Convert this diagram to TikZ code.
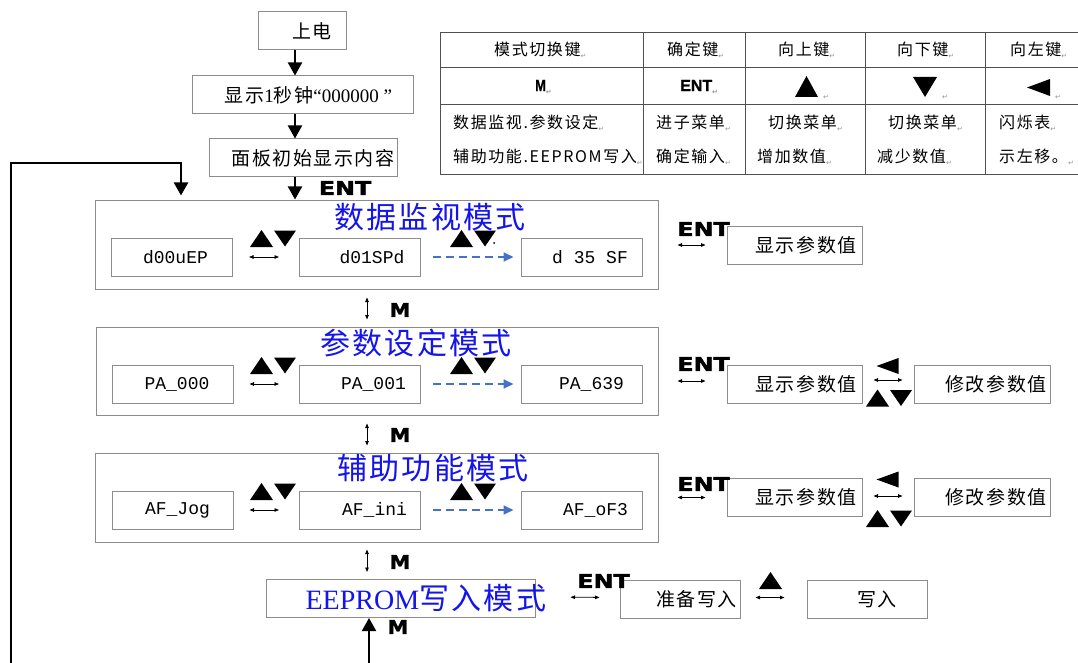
\documentclass[tikz,border=0pt]{standalone}
\usepackage{fontspec}
\setmainfont{Liberation Serif}
\newfontfamily\cjk[LetterSpace=8]{Noto Sans CJK SC}
\newfontfamily\cjkT[LetterSpace=10]{Noto Sans CJK SC}
\newfontfamily\monof{Liberation Mono}
\newfontfamily\heavyf{DejaVu Sans}
\newfontfamily\heavyb[BoldFeatures={FakeBold=2}]{DejaVu Sans}
\newfontfamily\lsans[BoldFeatures={FakeBold=1}]{Liberation Sans}
\usetikzlibrary{arrows.meta}
\definecolor{boxgray}{RGB}{140,140,140}
\definecolor{tablegray}{RGB}{80,80,80}
\definecolor{titleblue}{RGB}{20,20,235}
\definecolor{dashblue}{RGB}{68,114,196}
\definecolor{retgray}{RGB}{150,150,150}
\newcommand\retm{\raisebox{-3pt}{\fontsize{7}{7}\selectfont\heavyf\color{retgray}↵}}
\newcommand\entlbl{{\heavyb\bfseries\fontsize{19}{19}\selectfont\scalebox{1.25}[1]{ENT}}}
\newcommand\mlbl{{\heavyb\bfseries\fontsize{19}{19}\selectfont\scalebox{1.1}[1]{M}}}
\begin{document}
\begin{tikzpicture}[x=1pt,y=-1pt,
  box/.style={draw=boxgray, line width=1pt, inner sep=0pt, minimum height=38pt, font=\cjk\fontsize{19}{19}\selectfont},
  mbox/.style={box, font=\monof\fontsize{18}{18}\selectfont, minimum width=121pt},
  modebox/.style={draw=boxgray, line width=1pt, inner sep=0pt},
  shifttext/.style={execute at begin node={\hspace*{#1}}},
  title/.style={inner sep=0pt, text=titleblue, font=\cjk\fontsize{30}{30}\selectfont},
  flow/.style={line width=2pt, -{Triangle[length=13pt,width=14pt]}},
  dbl/.style={line width=0.8pt, {Triangle[length=4.5pt,width=3.5pt]}-{Triangle[length=4.5pt,width=3.5pt]}},
  dsh/.style={draw=dashblue, line width=1.7pt, dash pattern=on 8pt off 5pt, -{Triangle[length=10pt,width=9pt]}},
  lbl/.style={inner sep=0pt},
  tt/.style={anchor=west, inner sep=0pt, font=\cjkT\fontsize{16}{16}\selectfont},
  tline/.style={draw=tablegray, line width=1pt},
  tup/.pic={\fill (-11.5,8.5)--(11.5,8.5)--(0,-8.5)--cycle;},
  tdn/.pic={\fill (-11,-8)--(11,-8)--(0,8)--cycle;},
  tlf/.pic={\fill (11,-8)--(11,8)--(-11,0)--cycle;}
]
\fill[white] (0,0) rectangle (1078,663);
\useasboundingbox (0,0) rectangle (1078,663);

% ---------- table ----------
\draw[tline] (440,33) rectangle (1110,175);
\draw[tline] (440,68) -- (1110,68);
\draw[tline] (440,105) -- (1110,105);
\foreach \xx in {643,745,865,985} \draw[tline] (\xx,33) -- (\xx,175);
\node[tt] (h1) at (494,50.5) {模式切换键\retm};
\node[tt] (h2) at (667,50.5) {确定键\retm};
\node[tt] (h3) at (778,50.5) {向上键\retm};
\node[tt] (h4) at (897,50.5) {向下键\retm};
\node[tt] (h5) at (1010,50.5) {向左键\retm};
\node[tt, font=\lsans\bfseries\fontsize{16}{16}\selectfont] (k1) at (535,87) {\scalebox{0.8}[1]{M}\retm};
\node[tt, font=\lsans\bfseries\fontsize{16}{16}\selectfont] (k2) at (680,87) {ENT\retm};
\fill (795,97) -- (818,97) -- (806.5,76) -- cycle;
\node[lbl] (k3) at (826,97) {\retm};
\fill (913,77) -- (937,77) -- (925,97) -- cycle;
\node[lbl] (k4) at (945,97) {\retm};
\fill (1050,79) -- (1050,96) -- (1027,87.5) -- cycle;
\node[lbl] (k5) at (1058,97) {\retm};
\node[tt] (d1a) at (453,123) {数据监视.参数设定\retm};
\node[tt] (d1b) at (453,157) {辅助功能.EEPROM写入\retm};
\node[tt] (d2a) at (656,123) {进子菜单\retm};
\node[tt] (d2b) at (656,157) {确定输入\retm};
\node[tt] (d3a) at (768,123) {切换菜单\retm};
\node[tt] (d3b) at (757,157) {增加数值\retm};
\node[tt] (d4a) at (888,123) {切换菜单\retm};
\node[tt] (d4b) at (877,157) {减少数值\retm};
\node[tt] (d5a) at (999,123) {闪烁表\retm};
\node[tt] (d5b) at (999,157) {示左移。\retm};

% ---------- top flow ----------
\node[box, minimum width=88pt, shifttext=20pt] (pwr) at (302,31) {上电};
\node[box, minimum width=221pt, shifttext=12pt] (show) at (302.5,95) {显示{\rmfamily 1}秒钟{\rmfamily “000000 ”}};
\node[box, minimum width=188pt, shifttext=20pt] (panel) at (303,158) {面板初始显示内容};
\node[lbl] (entT) at (345,188) {\entlbl};

% ---------- mode boxes ----------
\node[modebox, minimum width=563pt, minimum height=89pt] (m1) at (376.5,244.5) {};
\node[modebox, minimum width=562pt, minimum height=88pt] (m2) at (377,371) {};
\node[modebox, minimum width=563pt, minimum height=89pt] (m3) at (376.5,497.5) {};
\node[box, minimum width=269pt] (ee) at (400.5,598.5) {};
\node[title] (t1) at (430,217) {数据监视模式};
\node[title] (t2) at (416,343) {参数设定模式};
\node[title] (t3) at (433,468) {辅助功能模式};
\node[inner sep=0pt, text=titleblue] (t4) at (426,598) {\fontsize{28}{28}\selectfont EEPROM{\cjk\fontsize{30}{30}\selectfont 写入模式}};

\node[mbox, shifttext=7pt] (b11) at (172,257) {d00uEP};
\node[mbox, shifttext=24pt] (b12) at (360,257) {d01SPd};
\node[mbox, shifttext=17pt] (b13) at (581.5,257) {d 35 SF};
\node[mbox, shifttext=9pt] (b21) at (172.5,384) {PA\_000};
\node[mbox, shifttext=27pt] (b22) at (360,384) {PA\_001};
\node[mbox, shifttext=20pt] (b23) at (581.5,384) {PA\_639};
\node[mbox, shifttext=10pt] (b31) at (172.5,510) {AF\_Jog};
\node[mbox, shifttext=29pt] (b32) at (360,510) {AF\_ini};
\node[mbox, shifttext=28pt] (b33) at (581.5,510) {AF\_oF3};

% triangles inside mode boxes
\foreach \yy in {238.5,365.5,491.5}{
  \pic at (261.5,\yy) {tup};
  \pic at (285,\yy) {tdn};
  \pic at (461.5,\yy) {tup};
  \pic at (485,\yy) {tdn};
}
\fill (494,243) circle (1);

% arrows inside mode boxes
\draw[dbl, shorten <=16pt, shorten >=20pt] (b11.east) -- (b12.west);
\draw[dbl, shorten <=16pt, shorten >=20pt] (b21.east) -- (b22.west);
\draw[dbl, shorten <=16pt, shorten >=20pt] (b31.east) -- (b32.west);
\draw[dsh, shorten <=12pt, shorten >=7pt] (b12.east) -- (b13.west);
\draw[dsh, shorten <=12pt, shorten >=7pt] (b22.east) -- (b23.west);
\draw[dsh, shorten <=12pt, shorten >=7pt] (b32.east) -- (b33.west);

% ---------- right side ----------
\node[box, minimum width=135pt, shifttext=23pt] (r1) at (794.5,245) {显示参数值};
\node[box, minimum width=135pt, shifttext=23pt] (r2) at (794.5,384) {显示参数值};
\node[box, minimum width=136pt, shifttext=28pt] (s2) at (982,384) {修改参数值};
\node[box, minimum width=135pt, shifttext=23pt] (r3) at (794.5,497.5) {显示参数值};
\node[box, minimum width=136pt, shifttext=28pt] (s3) at (982,497.5) {修改参数值};
\node[box, minimum width=120pt, shifttext=33pt] (prep) at (680,599) {准备写入};
\node[box, minimum width=120pt, shifttext=20pt] (wr) at (867,599) {写入};

\node[lbl] (e1) at (703.5,229) {\entlbl};
\node[lbl] (e2) at (703.5,364) {\entlbl};
\node[lbl] (e3) at (703.5,484) {\entlbl};
\node[lbl] (e4) at (603.5,581) {\entlbl};

\draw[dbl, shorten <=19pt, shorten >=21pt] (r1.west -| m1.east) -- (r1.west);
\draw[dbl, shorten <=19pt, shorten >=21pt] ([yshift=3pt]r2.west -| m2.east) -- ([yshift=3pt]r2.west);
\draw[dbl, shorten <=19pt, shorten >=21pt] ([yshift=0pt]r3.west -| m3.east) -- ([yshift=0pt]r3.west);
\draw[dbl, shorten <=11pt, shorten >=11pt] ([yshift=4pt]r2.east) -- ([yshift=4pt]s2.west);
\draw[dbl, shorten <=11pt, shorten >=11pt] ([yshift=1.5pt]r3.east) -- ([yshift=1.5pt]s3.west);
\draw[dbl, shorten <=35pt, shorten >=20pt] ([yshift=1.5pt]ee.east) -- ([yshift=1.5pt]prep.west);
\draw[dbl, shorten <=15pt, shorten >=22pt] ([yshift=1.5pt]prep.east) -- ([yshift=1.5pt]wr.west);

\pic at (887.5,366) {tlf};
\pic at (877.5,398) {tup};
\pic at (901,398) {tdn};
\pic at (887.5,479.5) {tlf};
\pic at (877.5,518.5) {tup};
\pic at (901,518.5) {tdn};
\pic at (770.5,580.5) {tup};

% ---------- main flow ----------
\draw[flow] ([xshift=-7pt]pwr.south) -- ([xshift=-7pt]pwr.south |- show.north);
\draw[flow] ([xshift=-7.5pt]show.south) -- ([xshift=-7.5pt]show.south |- panel.north);
\draw[flow] ([xshift=-8pt]panel.south) -- ([xshift=-8pt]panel.south |- m1.north);

\coordinate (lb) at (11,663);
\coordinate (lc) at (181,163);
\draw[line width=2.2pt, -{Triangle[length=13pt,width=14pt]}, shorten >=4pt] (lb) |- (lc) -- (lc |- m1.north);

\coordinate (bb) at (369,663);
\draw[flow] (bb) -- (bb |- ee.south);
\node[lbl] (mB) at (398,627) {\mlbl};

% mode switching
\draw[dbl, shorten <=8pt, shorten >=7pt] ([xshift=-9.5pt]m1.south) -- ([xshift=-9.5pt]m1.south |- m2.north);
\draw[dbl, shorten <=8pt, shorten >=7pt] ([xshift=-10pt]m2.south) -- ([xshift=-10pt]m2.south |- m3.north);
\draw[dbl, shorten <=7pt, shorten >=7pt] ([xshift=-9.5pt]m3.south) -- ([xshift=-9.5pt]m3.south |- ee.north);
\node[lbl] (mA) at (400,310) {\mlbl};
\node[lbl] (mC) at (400,435) {\mlbl};
\node[lbl] (mD) at (400,562) {\mlbl};
\end{tikzpicture}
\end{document}
